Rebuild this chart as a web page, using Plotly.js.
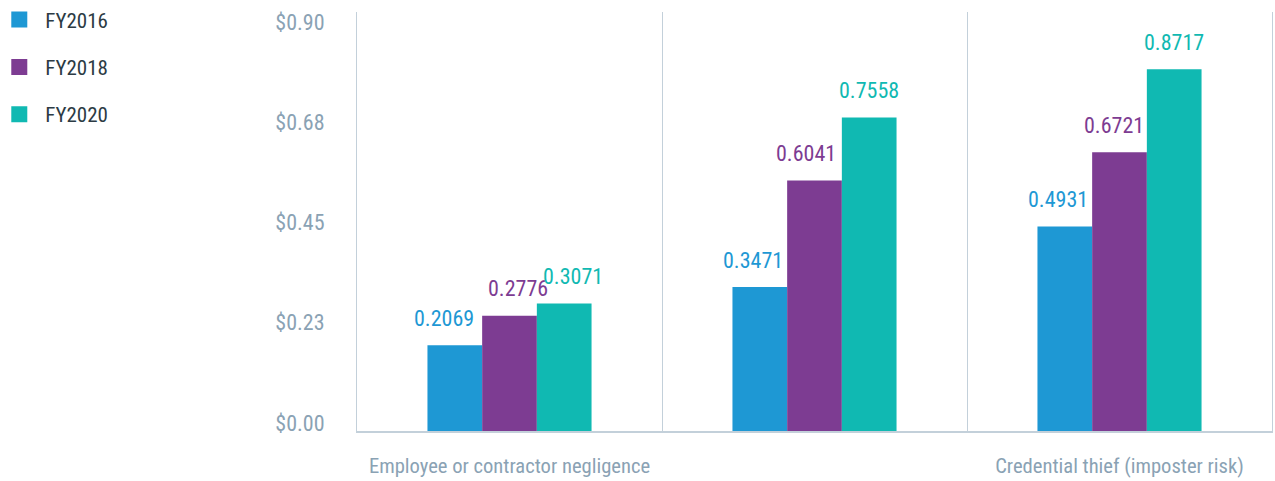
<!DOCTYPE html>
<html>
<head>
<meta charset="utf-8">
<script src="https://cdn.plot.ly/plotly-3.0.1.min.js"></script>
<style>html,body{margin:0;padding:0;background:#fff;}#chart{width:1275px;height:481px;}</style>
</head>
<body>
<div id="chart"></div>
<script>
// ---- data ----
const categories = ["Employee or contractor negligence", "Criminal or malicious insider", "Credential thief (imposter risk)"];
const categoryLabels = ["Employee or contractor negligence", "", "Credential thief (imposter risk)"];
const seriesNames = ["FY2016", "FY2018", "FY2020"];
const fy2016 = [0.2069, 0.3471, 0.4931];
const fy2018 = [0.2776, 0.6041, 0.6721];
const fy2020 = [0.3071, 0.7558, 0.8717];
const yTickVals = [0, 0.225, 0.45, 0.675, 0.9];
const yTickText = ["$0.00", "$0.23", "$0.45", "$0.68", "$0.90"];

// ---- style ----
const FONT = "'Liberation Sans Narrow', 'Roboto Condensed', 'DejaVu Sans Condensed', sans-serif";
const colors = ["#1e98d4", "#7d3c92", "#10b9b2"];
const labelNudgeX = [[-11, -7, -7], [8, -9, -6], [9, 0, 0]];
const seriesValues = [fy2016, fy2018, fy2020];
const barPx = 54.7;
const lineColor = "#c3d0da";

const traces = [];
seriesValues.forEach((vals, i) => {
  traces.push({
    type: "bar", x: categories, y: vals, name: seriesNames[i],
    marker: {color: colors[i]}, showlegend: false, hoverinfo: "y+name"
  });
});
// legend entries (no points), attached to the label axis
seriesNames.forEach((n, i) => {
  traces.push({
    type: "scatter", mode: "markers", x: [null], y: [null], name: n,
    yaxis: "y2", legendgroup: n,
    marker: {symbol: "square", size: 18, color: colors[i]},
    hoverinfo: "skip"
  });
});

const annotations = [];
seriesValues.forEach((vals, i) => {
  vals.forEach((v, j) => {
    annotations.push({
      x: categories[j], y: v, xref: "x", yref: "y",
      text: v.toFixed(4), showarrow: false,
      xshift: (i - 1) * barPx + labelNudgeX[i][j], yshift: 27,
      xanchor: "center", yanchor: "middle",
      font: {family: FONT, size: 22, color: colors[i]}
    });
  });
});

const layout = {
  width: 1275, height: 481,
  margin: {l: 357, r: 3, t: 12, b: 50, autoexpand: false},
  paper_bgcolor: "#ffffff", plot_bgcolor: "#ffffff",
  barmode: "group", bargap: 0.462, bargroupgap: 0,
  showlegend: true,
  legend: {
    x: -0.3975, y: 1.03, xanchor: "left", yanchor: "top",
    font: {family: FONT, size: 21, color: "#2c3b44"},
    itemwidth: 42, tracegroupgap: 17, bgcolor: "rgba(0,0,0,0)"
  },
  xaxis: {
    type: "category", tickvals: categories, ticktext: categoryLabels,
    tickson: "boundaries", showgrid: true, gridcolor: lineColor, gridwidth: 1,
    showline: true, linecolor: lineColor, linewidth: 1.5,
    ticks: "outside", ticklen: 22, tickcolor: "rgba(0,0,0,0)", tickangle: 0,
    ticklabelstandoff: 16,
    tickfont: {family: FONT, size: 20.6, color: "#8aa2b4"},
    zeroline: false, fixedrange: true
  },
  yaxis: {
    range: [0, 1.010], showgrid: false, zeroline: false, showticklabels: false,
    showline: true, mirror: true, linecolor: lineColor, linewidth: 1.2,
    ticks: "", fixedrange: true
  },
  yaxis2: {
    overlaying: "y", side: "left", range: [-0.01795, 0.92244],
    tickvals: yTickVals, ticktext: yTickText,
    showgrid: false, zeroline: false, showline: false,
    ticks: "outside", ticklen: 27, tickcolor: "rgba(0,0,0,0)",
    tickfont: {family: FONT, size: 22, color: "#8aa2b4"}, fixedrange: true
  },
  annotations: annotations
};

Plotly.newPlot("chart", traces, layout, {displayModeBar: false, staticPlot: true});
</script>
</body>
</html>
